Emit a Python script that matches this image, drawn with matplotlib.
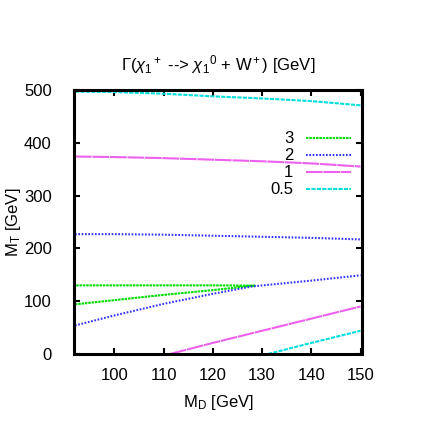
import matplotlib
matplotlib.use('Agg')
from matplotlib import pyplot as plt

plt.rcParams['font.family'] = ['Liberation Sans', 'DejaVu Sans']
plt.rcParams['mathtext.fontset'] = 'custom'
plt.rcParams['mathtext.rm'] = 'Liberation Sans'
plt.rcParams['mathtext.it'] = 'Liberation Sans:italic'

# contour levels (decay width, GeV)
levels = ['3', '2', '1', '0.5']

# level 3 : closed contour
md_3 = [92, 100, 110, 120, 128.5, 120, 110, 100, 92]
mt_3 = [94, 102, 112, 121, 129.5, 130, 130, 130, 130]

# level 2 : upper and lower branch
md_2_up = [92, 100, 110, 120, 130, 140, 150]
mt_2_up = [227, 227, 226, 224, 222, 220, 217]
md_2_lo = [92, 100, 110, 120, 128, 140, 150]
mt_2_lo = [54, 73, 95, 114, 128, 139, 149]

# level 1
md_1_up = [92, 100, 110, 120, 130, 140, 150]
mt_1_up = [374, 373, 371, 368, 365, 361, 355]
md_1_lo = [111.3, 120, 130, 140, 150]
mt_1_lo = [0, 21, 44, 67, 90]

# level 0.5
md_05_up = [92, 100, 110, 120, 130, 140, 150]
mt_05_up = [497, 496, 493, 488, 484, 479, 471]
md_05_lo = [131.2, 140, 150]
mt_05_lo = [0, 21, 44]

fig = plt.figure(figsize=(4.36, 4.44), dpi=100)
ax = fig.add_axes([74/436, 90/444, 288/436, 264/444])

c3, c2, c1, c05 = '#00dd00', '#3030ff', '#ee60ee', '#00dddd'
ls3, ls2, ls1, ls05 = (0, (1.2, 0.4)), (0, (0.8, 0.8)), (0, (8, 0.4)), (0, (2, 0.6))
lw = 1.5

l3, = ax.plot(md_3, mt_3, color=c3, ls=ls3, lw=lw, label=levels[0])
l2, = ax.plot(md_2_up, mt_2_up, color=c2, ls=ls2, lw=lw, label=levels[1])
ax.plot(md_2_lo, mt_2_lo, color=c2, ls=ls2, lw=lw)
l1, = ax.plot(md_1_up, mt_1_up, color=c1, ls=ls1, lw=lw, label=levels[2])
ax.plot(md_1_lo, mt_1_lo, color=c1, ls=ls1, lw=lw)
l05, = ax.plot(md_05_up, mt_05_up, color=c05, ls=ls05, lw=lw, label=levels[3])
ax.plot(md_05_lo, mt_05_lo, color=c05, ls=ls05, lw=lw)

ax.set_xlim(91.8, 150.3)
ax.set_ylim(0, 500)
ax.set_xticks([100, 110, 120, 130, 140, 150])
ax.set_yticks([0, 100, 200, 300, 400, 500])
ax.tick_params(direction='in', length=4, width=1.5, top=True, right=True,
               labelsize=12)
ax.tick_params(axis='y', pad=16)
ax.tick_params(axis='x', pad=10)
for s in ax.spines.values():
    s.set_linewidth(2.2)

ax.set_xlabel(r'M$_\mathrm{D}$ [GeV]', fontsize=12, labelpad=7)
ax.set_ylabel(r'M$_\mathrm{T}$ [GeV]', fontsize=12, labelpad=1)
ax.set_title(r'$\Gamma$($\chi_1{}^+$ --> $\chi_1{}^0$ + W$^+$) [GeV]',
             fontsize=12, pad=14)

ax.legend(handles=[l3, l2, l1, l05], loc='upper right', frameon=False,
          markerfirst=False, fontsize=12, handlelength=2.7, handletextpad=0.76,
          labelspacing=0.12, borderpad=0, borderaxespad=0,
          bbox_to_anchor=(0.962, 0.843))

plt.savefig('out.png', dpi=100)
